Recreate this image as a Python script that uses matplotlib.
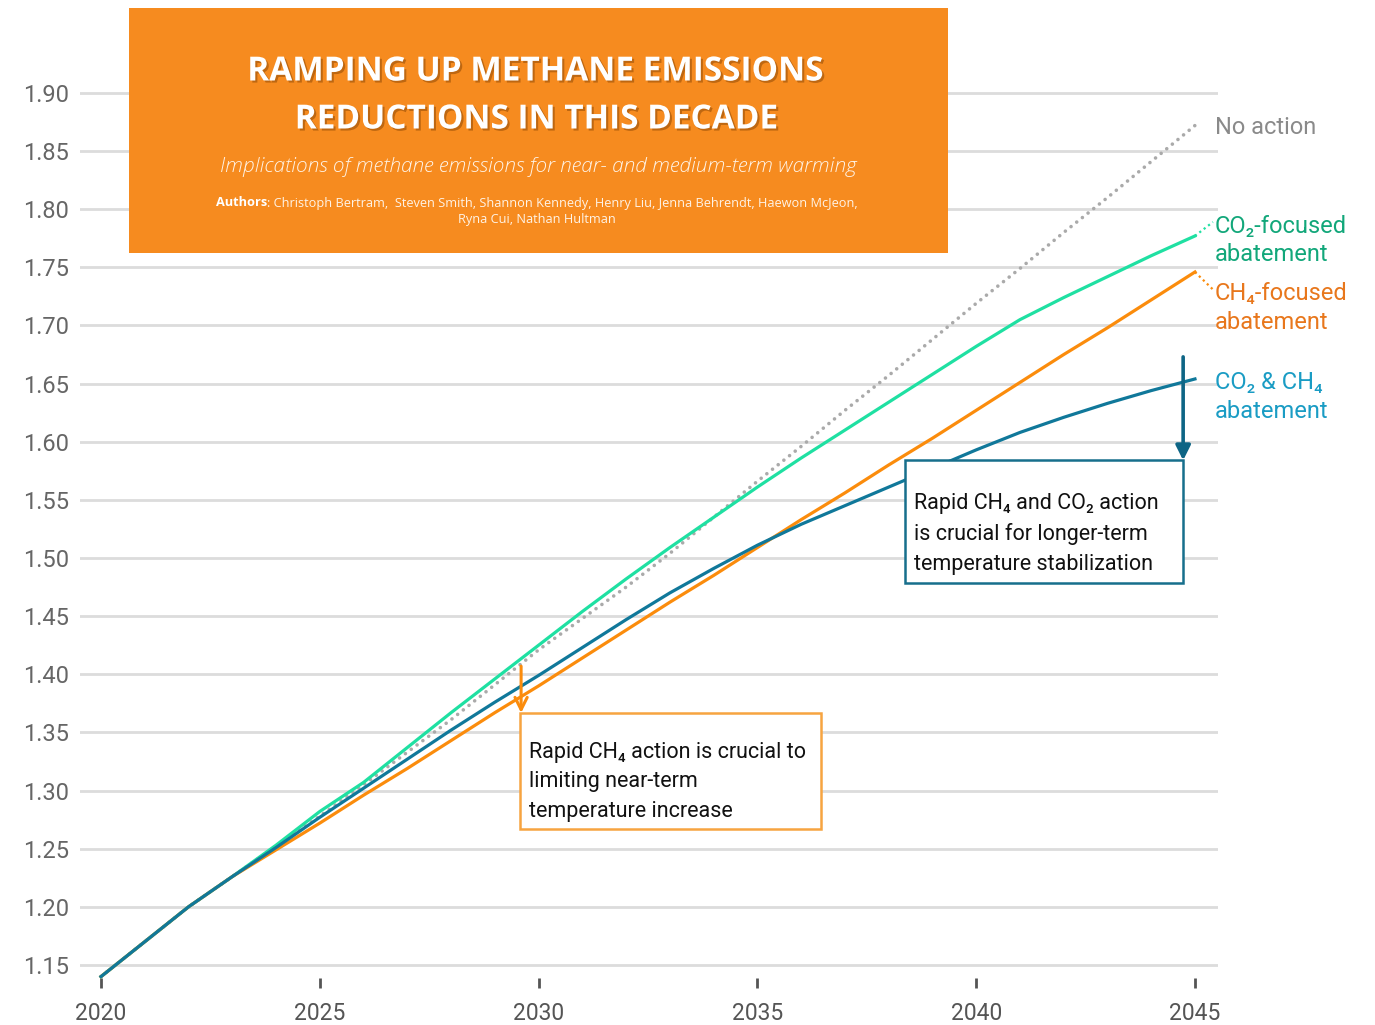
import matplotlib.pyplot as plt
import matplotlib.patheffects as pe
from matplotlib.patches import Rectangle

# Projected warming (deg C) per scenario, annual values 2020-2045
years = list(range(2020, 2046))
no_action = [1.140, 1.170, 1.200, 1.226, 1.252, 1.278, 1.305, 1.333, 1.361, 1.391,
             1.421, 1.448, 1.475, 1.504, 1.535, 1.566, 1.596, 1.627, 1.657, 1.688,
             1.719, 1.749, 1.780, 1.810, 1.841, 1.872]
co2_focused = [1.140, 1.170, 1.200, 1.226, 1.253, 1.282, 1.307, 1.337, 1.367, 1.396,
               1.425, 1.454, 1.482, 1.509, 1.535, 1.561, 1.586, 1.610, 1.634, 1.658,
               1.682, 1.705, 1.724, 1.742, 1.760, 1.777]
ch4_focused = [1.140, 1.170, 1.200, 1.226, 1.249, 1.272, 1.296, 1.319, 1.343, 1.367,
               1.390, 1.414, 1.438, 1.462, 1.485, 1.509, 1.533, 1.556, 1.580, 1.603,
               1.627, 1.651, 1.675, 1.698, 1.722, 1.746]
co2_ch4 = [1.140, 1.170, 1.200, 1.226, 1.251, 1.277, 1.302, 1.327, 1.352, 1.376,
           1.399, 1.423, 1.447, 1.470, 1.491, 1.511, 1.529, 1.545, 1.561, 1.577,
           1.593, 1.608, 1.621, 1.633, 1.644, 1.654]

yticks = [1.15, 1.20, 1.25, 1.30, 1.35, 1.40, 1.45, 1.50, 1.55, 1.60, 1.65,
          1.70, 1.75, 1.80, 1.85, 1.90]
xticks = [2020, 2025, 2030, 2035, 2040, 2045]

GRAY = '#aaaaaa'
GREEN = '#1fe0a2'
ORANGE = '#fb8c0c'
TEAL = '#10789a'

plt.rcParams['font.family'] = ['Roboto', 'DejaVu Sans']

fig = plt.figure(figsize=(13.75, 10.25), dpi=100)
ax = fig.add_axes([0.0582, 0.0359, 0.8276, 0.8961])
ax.set_xlim(2019.52, 2045.526)
ax.set_ylim(1.13, 1.92)
for s in ax.spines.values():
    s.set_visible(False)

ax.set_yticks(yticks)
ax.set_yticklabels([f'{v:.2f}' for v in yticks])
ax.set_xticks(xticks)
ax.tick_params(axis='y', length=0, pad=8, labelsize=17, labelcolor='#666666')
ax.tick_params(axis='x', direction='in', length=7, width=2, color='#555555',
               pad=10, labelsize=16.5, labelcolor='#555555')
ax.grid(axis='y', color='#dcdcdc', lw=2)
ax.set_axisbelow(True)

# scenario lines
ax.plot(years, no_action, color=GRAY, lw=2.6, ls=(0, (0.01, 2.0)),
        dash_capstyle='round', zorder=2)
ax.plot(years, co2_focused, color=GREEN, lw=2.3, zorder=3)
ax.plot(years, ch4_focused, color=ORANGE, lw=2.3, zorder=3)
ax.plot(years, co2_ch4, color=TEAL, lw=2.3, zorder=4)

# end labels with short leaders
lx = 2045.46
ax.text(lx, no_action[-1] - 0.002, 'No action', color='#8a8a8a', fontsize=17,
        va='center', ha='left', clip_on=False)
ax.plot([years[-1], lx - 0.05], [co2_focused[-1], co2_focused[-1] + 0.012],
        color=GREEN, lw=1.6, ls=(0, (1, 1.5)), clip_on=False)
ax.text(lx, co2_focused[-1] - 0.004, 'CO₂-focused\nabatement', color='#12a77a',
        fontsize=17, va='center', ha='left', linespacing=1.3, clip_on=False)
ax.plot([years[-1], lx - 0.05], [ch4_focused[-1], ch4_focused[-1] - 0.015],
        color=ORANGE, lw=1.6, ls=(0, (1, 1.5)), clip_on=False)
ax.text(lx, ch4_focused[-1] - 0.031, 'CH₄-focused\nabatement', color='#e8771c',
        fontsize=17, va='center', ha='left', linespacing=1.3, clip_on=False)
ax.text(lx, co2_ch4[-1] - 0.0155, 'CO₂ & CH₄\nabatement', color='#1a9cc4',
        fontsize=17, va='center', ha='left', linespacing=1.3, clip_on=False)

# near-term callout
ax.add_patch(Rectangle((2029.57, 1.267), 6.88, 0.0997, facecolor='white',
                       edgecolor='#f7a440', lw=1.8, zorder=6))
ax.text(2029.77, 1.3075, 'Rapid CH₄ action is crucial to\nlimiting near-term\ntemperature increase',
        fontsize=15.5, color='#111111', va='center', ha='left', linespacing=1.55, zorder=7)
ax.annotate('', xy=(2029.6, 1.3667), xytext=(2029.6, 1.407),
            arrowprops=dict(arrowstyle='->', color=ORANGE, lw=2.2,
                            mutation_scale=22, shrinkA=0, shrinkB=0), zorder=7)

# longer-term callout
ax.add_patch(Rectangle((2038.37, 1.4786), 6.36, 0.1058, facecolor='white',
                       edgecolor='#176f8c', lw=1.8, zorder=6))
ax.text(2038.58, 1.5205, 'Rapid CH₄ and CO₂ action\nis crucial for longer-term\ntemperature stabilization',
        fontsize=15.5, color='#111111', va='center', ha='left', linespacing=1.55, zorder=7)
ax.annotate('', xy=(2044.73, 1.584), xytext=(2044.73, 1.673),
            arrowprops=dict(arrowstyle='-|>', color='#0e6585', lw=2.6,
                            mutation_scale=22, shrinkA=0, shrinkB=0), zorder=7)

# header banner
W, H = 1375, 1025
fig.add_artist(Rectangle((129 / W, 1 - 253 / H), (948 - 129) / W, 245 / H,
                         transform=fig.transFigure, facecolor='#f68b1f',
                         edgecolor='none', zorder=1))
shadow = [pe.SimplePatchShadow(offset=(1.5, -1.5), shadow_rgbFace='#7a3c00', alpha=0.45),
          pe.Normal()]
fig.text(536 / W, 1 - 72 / H, 'RAMPING UP METHANE EMISSIONS', family=['Open Sans', 'DejaVu Sans'],
         fontsize=24, weight='bold', color='white', ha='center', va='center',
         path_effects=shadow, zorder=3)
fig.text(537 / W, 1 - 120 / H, 'REDUCTIONS IN THIS DECADE', family=['Open Sans', 'DejaVu Sans'],
         fontsize=24, weight='bold', color='white', ha='center', va='center',
         path_effects=shadow, zorder=3)
fig.text(538 / W, 1 - 167 / H,
         'Implications of methane emissions for near- and medium-term warming',
         family=['Open Sans', 'DejaVu Sans'], fontsize=15, style='italic', weight='light',
         color='#fff3e6', ha='center', va='center', zorder=3)

# authors line: bold lead-in followed by the names
renderer = fig.canvas.get_renderer()
lead = fig.text(0, 1 - 203 / H, 'Authors', family=['Open Sans', 'DejaVu Sans'],
                fontsize=9.2, weight='bold', color='white', ha='left', va='center', zorder=3)
rest = fig.text(0, 1 - 203 / H,
                ': Christoph Bertram,  Steven Smith, Shannon Kennedy, Henry Liu, '
                'Jenna Behrendt, Haewon McJeon,',
                family=['Open Sans', 'DejaVu Sans'], fontsize=9.2, color='#fff3e6',
                ha='left', va='center', zorder=3)
w1 = lead.get_window_extent(renderer).width / W
w2 = rest.get_window_extent(renderer).width / W
x0 = 537 / W - (w1 + w2) / 2
lead.set_x(x0)
rest.set_x(x0 + w1)
fig.text(537 / W, 1 - 220 / H, 'Ryna Cui, Nathan Hultman', family=['Open Sans', 'DejaVu Sans'],
         fontsize=9.2, color='#fff3e6', ha='center', va='center', zorder=3)

fig.savefig('out.png', dpi=100)
